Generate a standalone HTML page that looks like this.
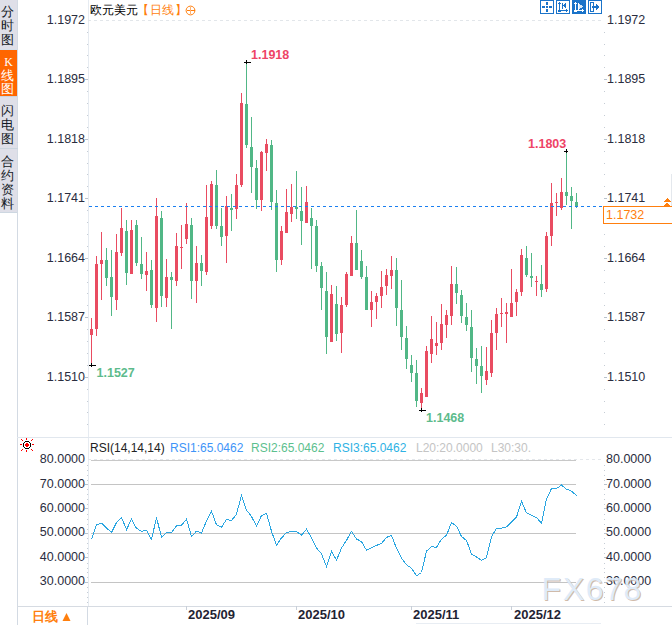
<!DOCTYPE html>
<html><head><meta charset="utf-8"><style>
html,body{margin:0;padding:0;width:672px;height:625px;overflow:hidden;background:#fff;font-family:"Liberation Sans",sans-serif;}
.t{position:absolute;white-space:nowrap;line-height:16px;}
.ax{font-size:12.5px;color:#2a2d3e;}
.rs{font-size:12px;}
.cj{font-size:12px;}
#side{position:absolute;left:0;top:0;width:17px;height:212px;background:#dfdfe8;border-bottom:1px solid #cdd7e1;}
#side div{position:absolute;left:-1px;width:17px;text-align:center;font-size:13px;line-height:14px;color:#141a26;font-weight:500;}
#vline{position:absolute;left:17px;top:0;width:1px;height:625px;background:#d3dae3;}
#daybtn{position:absolute;left:18px;top:607px;width:69px;height:18px;border-right:1px solid #d3dae3;color:#ff7f0e;font-weight:bold;font-size:13px;line-height:20px;}
#wm span{position:absolute;top:571px;font-size:32px;line-height:normal;color:#dce9f8;text-shadow:1px 1px 0 rgba(190,160,135,0.8);opacity:0.9}
</style></head><body>
<div id="vline"></div>
<div id="side">
<div style="top:5px">分<br>时<br>图</div>
<div style="top:50px;left:0;height:41px;padding-top:5px;line-height:13.2px;background:#ff6600;color:#fff"><span style="font-family:'Liberation Serif',serif;font-size:12px">K</span><br><span style="position:relative;left:-1px">线<br>图</span></div>
<div style="top:49px;left:0;width:17px;height:1px;background:#d6e0ea"></div><div style="top:96px;left:0;width:17px;height:1px;background:#ccd5de"></div><div style="top:104px">闪<br>电<br>图</div>
<div style="top:148px;left:0;width:18px;height:1px;background:#cad5de"></div>
<div style="top:155px">合<br>约<br>资<br>料</div>
</div>
<svg width="672" height="625" style="position:absolute;left:0;top:0" shape-rendering="crispEdges"><rect x="88" y="0" width="1" height="606" fill="#e6ebf1"/><line x1="88" y1="20.5" x2="604" y2="20.5" stroke="#e2e6ea" stroke-width="1" stroke-dasharray="3,3"/><rect x="85" y="79" width="3" height="1" fill="#b9c2cc"/><rect x="604" y="79" width="3" height="1" fill="#b9c2cc"/><rect x="85" y="139" width="3" height="1" fill="#b9c2cc"/><rect x="604" y="139" width="3" height="1" fill="#b9c2cc"/><rect x="85" y="198" width="3" height="1" fill="#b9c2cc"/><rect x="604" y="198" width="3" height="1" fill="#b9c2cc"/><rect x="85" y="258" width="3" height="1" fill="#b9c2cc"/><rect x="604" y="258" width="3" height="1" fill="#b9c2cc"/><rect x="85" y="317" width="3" height="1" fill="#b9c2cc"/><rect x="604" y="317" width="3" height="1" fill="#b9c2cc"/><rect x="85" y="377" width="3" height="1" fill="#b9c2cc"/><rect x="604" y="377" width="3" height="1" fill="#b9c2cc"/><rect x="87" y="32" width="1" height="1" fill="#c5ccd4"/><rect x="604" y="32" width="1" height="1" fill="#c5ccd4"/><rect x="87" y="44" width="1" height="1" fill="#c5ccd4"/><rect x="604" y="44" width="1" height="1" fill="#c5ccd4"/><rect x="87" y="55" width="1" height="1" fill="#c5ccd4"/><rect x="604" y="55" width="1" height="1" fill="#c5ccd4"/><rect x="87" y="67" width="1" height="1" fill="#c5ccd4"/><rect x="604" y="67" width="1" height="1" fill="#c5ccd4"/><rect x="87" y="91" width="1" height="1" fill="#c5ccd4"/><rect x="604" y="91" width="1" height="1" fill="#c5ccd4"/><rect x="87" y="103" width="1" height="1" fill="#c5ccd4"/><rect x="604" y="103" width="1" height="1" fill="#c5ccd4"/><rect x="87" y="115" width="1" height="1" fill="#c5ccd4"/><rect x="604" y="115" width="1" height="1" fill="#c5ccd4"/><rect x="87" y="127" width="1" height="1" fill="#c5ccd4"/><rect x="604" y="127" width="1" height="1" fill="#c5ccd4"/><rect x="87" y="151" width="1" height="1" fill="#c5ccd4"/><rect x="604" y="151" width="1" height="1" fill="#c5ccd4"/><rect x="87" y="163" width="1" height="1" fill="#c5ccd4"/><rect x="604" y="163" width="1" height="1" fill="#c5ccd4"/><rect x="87" y="174" width="1" height="1" fill="#c5ccd4"/><rect x="604" y="174" width="1" height="1" fill="#c5ccd4"/><rect x="87" y="186" width="1" height="1" fill="#c5ccd4"/><rect x="604" y="186" width="1" height="1" fill="#c5ccd4"/><rect x="87" y="210" width="1" height="1" fill="#c5ccd4"/><rect x="604" y="210" width="1" height="1" fill="#c5ccd4"/><rect x="87" y="222" width="1" height="1" fill="#c5ccd4"/><rect x="604" y="222" width="1" height="1" fill="#c5ccd4"/><rect x="87" y="234" width="1" height="1" fill="#c5ccd4"/><rect x="604" y="234" width="1" height="1" fill="#c5ccd4"/><rect x="87" y="246" width="1" height="1" fill="#c5ccd4"/><rect x="604" y="246" width="1" height="1" fill="#c5ccd4"/><rect x="87" y="270" width="1" height="1" fill="#c5ccd4"/><rect x="604" y="270" width="1" height="1" fill="#c5ccd4"/><rect x="87" y="282" width="1" height="1" fill="#c5ccd4"/><rect x="604" y="282" width="1" height="1" fill="#c5ccd4"/><rect x="87" y="293" width="1" height="1" fill="#c5ccd4"/><rect x="604" y="293" width="1" height="1" fill="#c5ccd4"/><rect x="87" y="305" width="1" height="1" fill="#c5ccd4"/><rect x="604" y="305" width="1" height="1" fill="#c5ccd4"/><rect x="87" y="329" width="1" height="1" fill="#c5ccd4"/><rect x="604" y="329" width="1" height="1" fill="#c5ccd4"/><rect x="87" y="341" width="1" height="1" fill="#c5ccd4"/><rect x="604" y="341" width="1" height="1" fill="#c5ccd4"/><rect x="87" y="353" width="1" height="1" fill="#c5ccd4"/><rect x="604" y="353" width="1" height="1" fill="#c5ccd4"/><rect x="87" y="365" width="1" height="1" fill="#c5ccd4"/><rect x="604" y="365" width="1" height="1" fill="#c5ccd4"/><rect x="87" y="389" width="1" height="1" fill="#c5ccd4"/><rect x="604" y="389" width="1" height="1" fill="#c5ccd4"/><rect x="87" y="401" width="1" height="1" fill="#c5ccd4"/><rect x="604" y="401" width="1" height="1" fill="#c5ccd4"/><rect x="87" y="412" width="1" height="1" fill="#c5ccd4"/><rect x="604" y="412" width="1" height="1" fill="#c5ccd4"/><rect x="87" y="424" width="1" height="1" fill="#c5ccd4"/><rect x="604" y="424" width="1" height="1" fill="#c5ccd4"/><rect x="91" y="318" width="1" height="47" fill="#e94c61"/><rect x="90" y="329" width="3" height="6" fill="#e94c61"/><rect x="96" y="256" width="1" height="80" fill="#e94c61"/><rect x="95" y="264" width="3" height="65" fill="#e94c61"/><rect x="101" y="232" width="1" height="68" fill="#e94c61"/><rect x="100" y="260" width="3" height="4" fill="#e94c61"/><rect x="106" y="248" width="1" height="38" fill="#51b786"/><rect x="105" y="260" width="3" height="18" fill="#51b786"/><rect x="111" y="250" width="1" height="66" fill="#51b786"/><rect x="110" y="277" width="3" height="20" fill="#51b786"/><rect x="116" y="234" width="1" height="76" fill="#e94c61"/><rect x="115" y="252" width="3" height="48" fill="#e94c61"/><rect x="121" y="208" width="1" height="48" fill="#e94c61"/><rect x="120" y="228" width="3" height="25" fill="#e94c61"/><rect x="126" y="220" width="1" height="65" fill="#51b786"/><rect x="125" y="231" width="3" height="42" fill="#51b786"/><rect x="131" y="220" width="1" height="54" fill="#e94c61"/><rect x="130" y="230" width="3" height="44" fill="#e94c61"/><rect x="136" y="220" width="1" height="46" fill="#51b786"/><rect x="135" y="225" width="3" height="38" fill="#51b786"/><rect x="141" y="237" width="1" height="42" fill="#51b786"/><rect x="140" y="264" width="3" height="10" fill="#51b786"/><rect x="146" y="252" width="1" height="39" fill="#e94c61"/><rect x="145" y="271" width="3" height="4" fill="#e94c61"/><rect x="151" y="260" width="1" height="48" fill="#51b786"/><rect x="150" y="270" width="3" height="35" fill="#51b786"/><rect x="156" y="198" width="1" height="124" fill="#e94c61"/><rect x="155" y="216" width="3" height="92" fill="#e94c61"/><rect x="161" y="211" width="1" height="96" fill="#51b786"/><rect x="160" y="218" width="3" height="78" fill="#51b786"/><rect x="166" y="259" width="1" height="48" fill="#e94c61"/><rect x="165" y="277" width="3" height="21" fill="#e94c61"/><rect x="171" y="272" width="1" height="57" fill="#51b786"/><rect x="170" y="277" width="3" height="3" fill="#51b786"/><rect x="176" y="233" width="1" height="53" fill="#e94c61"/><rect x="175" y="246" width="3" height="35" fill="#e94c61"/><rect x="181" y="225" width="1" height="44" fill="#e94c61"/><rect x="180" y="247" width="3" height="1" fill="#e94c61"/><rect x="186" y="203" width="1" height="41" fill="#e94c61"/><rect x="185" y="224" width="3" height="15" fill="#e94c61"/><rect x="191" y="218" width="1" height="81" fill="#51b786"/><rect x="190" y="225" width="3" height="56" fill="#51b786"/><rect x="196" y="246" width="1" height="57" fill="#e94c61"/><rect x="195" y="263" width="3" height="18" fill="#e94c61"/><rect x="201" y="255" width="1" height="31" fill="#51b786"/><rect x="200" y="263" width="3" height="8" fill="#51b786"/><rect x="206" y="185" width="1" height="90" fill="#e94c61"/><rect x="205" y="217" width="3" height="55" fill="#e94c61"/><rect x="211" y="181" width="1" height="48" fill="#e94c61"/><rect x="210" y="184" width="3" height="42" fill="#e94c61"/><rect x="216" y="170" width="1" height="59" fill="#51b786"/><rect x="215" y="185" width="3" height="41" fill="#51b786"/><rect x="221" y="208" width="1" height="38" fill="#51b786"/><rect x="220" y="226" width="3" height="11" fill="#51b786"/><rect x="226" y="196" width="1" height="67" fill="#e94c61"/><rect x="225" y="206" width="3" height="30" fill="#e94c61"/><rect x="231" y="194" width="1" height="37" fill="#51b786"/><rect x="230" y="208" width="3" height="2" fill="#51b786"/><rect x="236" y="174" width="1" height="45" fill="#e94c61"/><rect x="235" y="185" width="3" height="24" fill="#e94c61"/><rect x="241" y="93" width="1" height="94" fill="#e94c61"/><rect x="240" y="103" width="3" height="82" fill="#e94c61"/><rect x="246" y="62" width="1" height="86" fill="#51b786"/><rect x="245" y="104" width="3" height="41" fill="#51b786"/><rect x="251" y="117" width="1" height="76" fill="#51b786"/><rect x="250" y="147" width="3" height="20" fill="#51b786"/><rect x="256" y="160" width="1" height="49" fill="#51b786"/><rect x="255" y="168" width="3" height="32" fill="#51b786"/><rect x="261" y="151" width="1" height="60" fill="#e94c61"/><rect x="260" y="152" width="3" height="48" fill="#e94c61"/><rect x="266" y="139" width="1" height="32" fill="#e94c61"/><rect x="265" y="144" width="3" height="9" fill="#e94c61"/><rect x="271" y="140" width="1" height="70" fill="#51b786"/><rect x="270" y="145" width="3" height="57" fill="#51b786"/><rect x="276" y="190" width="1" height="82" fill="#51b786"/><rect x="275" y="203" width="3" height="57" fill="#51b786"/><rect x="281" y="226" width="1" height="39" fill="#e94c61"/><rect x="280" y="231" width="3" height="29" fill="#e94c61"/><rect x="286" y="189" width="1" height="44" fill="#e94c61"/><rect x="285" y="212" width="3" height="21" fill="#e94c61"/><rect x="291" y="184" width="1" height="38" fill="#e94c61"/><rect x="290" y="207" width="3" height="7" fill="#e94c61"/><rect x="296" y="171" width="1" height="48" fill="#51b786"/><rect x="295" y="207" width="3" height="2" fill="#51b786"/><rect x="301" y="187" width="1" height="58" fill="#51b786"/><rect x="300" y="211" width="3" height="10" fill="#51b786"/><rect x="306" y="186" width="1" height="37" fill="#e94c61"/><rect x="305" y="202" width="3" height="21" fill="#e94c61"/><rect x="311" y="208" width="1" height="61" fill="#51b786"/><rect x="310" y="218" width="3" height="8" fill="#51b786"/><rect x="316" y="220" width="1" height="52" fill="#51b786"/><rect x="315" y="226" width="3" height="40" fill="#51b786"/><rect x="321" y="262" width="1" height="48" fill="#51b786"/><rect x="320" y="266" width="3" height="22" fill="#51b786"/><rect x="326" y="272" width="1" height="82" fill="#51b786"/><rect x="325" y="291" width="3" height="46" fill="#51b786"/><rect x="331" y="285" width="1" height="57" fill="#e94c61"/><rect x="330" y="294" width="3" height="48" fill="#e94c61"/><rect x="336" y="286" width="1" height="55" fill="#51b786"/><rect x="335" y="304" width="3" height="30" fill="#51b786"/><rect x="341" y="297" width="1" height="56" fill="#e94c61"/><rect x="340" y="305" width="3" height="28" fill="#e94c61"/><rect x="346" y="272" width="1" height="35" fill="#e94c61"/><rect x="345" y="274" width="3" height="31" fill="#e94c61"/><rect x="351" y="236" width="1" height="40" fill="#e94c61"/><rect x="350" y="243" width="3" height="33" fill="#e94c61"/><rect x="356" y="210" width="1" height="60" fill="#51b786"/><rect x="355" y="243" width="3" height="27" fill="#51b786"/><rect x="361" y="250" width="1" height="29" fill="#51b786"/><rect x="360" y="261" width="3" height="16" fill="#51b786"/><rect x="366" y="266" width="1" height="44" fill="#51b786"/><rect x="365" y="277" width="3" height="33" fill="#51b786"/><rect x="371" y="291" width="1" height="36" fill="#e94c61"/><rect x="370" y="302" width="3" height="8" fill="#e94c61"/><rect x="376" y="293" width="1" height="26" fill="#e94c61"/><rect x="375" y="296" width="3" height="6" fill="#e94c61"/><rect x="381" y="271" width="1" height="37" fill="#e94c61"/><rect x="380" y="287" width="3" height="9" fill="#e94c61"/><rect x="386" y="269" width="1" height="26" fill="#e94c61"/><rect x="385" y="275" width="3" height="11" fill="#e94c61"/><rect x="391" y="256" width="1" height="33" fill="#e94c61"/><rect x="390" y="270" width="3" height="6" fill="#e94c61"/><rect x="396" y="258" width="1" height="68" fill="#51b786"/><rect x="395" y="270" width="3" height="38" fill="#51b786"/><rect x="401" y="280" width="1" height="70" fill="#51b786"/><rect x="400" y="310" width="3" height="27" fill="#51b786"/><rect x="406" y="326" width="1" height="43" fill="#51b786"/><rect x="405" y="338" width="3" height="21" fill="#51b786"/><rect x="411" y="355" width="1" height="27" fill="#51b786"/><rect x="410" y="365" width="3" height="8" fill="#51b786"/><rect x="416" y="360" width="1" height="47" fill="#51b786"/><rect x="415" y="373" width="3" height="28" fill="#51b786"/><rect x="421" y="388" width="1" height="22" fill="#e94c61"/><rect x="420" y="393" width="3" height="10" fill="#e94c61"/><rect x="426" y="346" width="1" height="51" fill="#e94c61"/><rect x="425" y="351" width="3" height="46" fill="#e94c61"/><rect x="431" y="316" width="1" height="47" fill="#e94c61"/><rect x="430" y="339" width="3" height="15" fill="#e94c61"/><rect x="436" y="322" width="1" height="33" fill="#e94c61"/><rect x="435" y="343" width="3" height="3" fill="#e94c61"/><rect x="441" y="304" width="1" height="46" fill="#e94c61"/><rect x="440" y="324" width="3" height="19" fill="#e94c61"/><rect x="446" y="310" width="1" height="28" fill="#e94c61"/><rect x="445" y="315" width="3" height="10" fill="#e94c61"/><rect x="451" y="266" width="1" height="59" fill="#e94c61"/><rect x="450" y="284" width="3" height="32" fill="#e94c61"/><rect x="456" y="267" width="1" height="37" fill="#51b786"/><rect x="455" y="284" width="3" height="9" fill="#51b786"/><rect x="461" y="290" width="1" height="33" fill="#51b786"/><rect x="460" y="295" width="3" height="21" fill="#51b786"/><rect x="466" y="303" width="1" height="28" fill="#51b786"/><rect x="465" y="317" width="3" height="8" fill="#51b786"/><rect x="471" y="310" width="1" height="62" fill="#51b786"/><rect x="470" y="327" width="3" height="31" fill="#51b786"/><rect x="476" y="348" width="1" height="36" fill="#51b786"/><rect x="475" y="359" width="3" height="7" fill="#51b786"/><rect x="481" y="346" width="1" height="47" fill="#51b786"/><rect x="480" y="366" width="3" height="10" fill="#51b786"/><rect x="486" y="347" width="1" height="38" fill="#e94c61"/><rect x="485" y="371" width="3" height="9" fill="#e94c61"/><rect x="491" y="320" width="1" height="57" fill="#e94c61"/><rect x="490" y="333" width="3" height="40" fill="#e94c61"/><rect x="496" y="308" width="1" height="42" fill="#e94c61"/><rect x="495" y="314" width="3" height="19" fill="#e94c61"/><rect x="501" y="298" width="1" height="29" fill="#e94c61"/><rect x="500" y="313" width="3" height="1" fill="#e94c61"/><rect x="506" y="303" width="1" height="40" fill="#e94c61"/><rect x="505" y="312" width="3" height="2" fill="#e94c61"/><rect x="511" y="269" width="1" height="48" fill="#e94c61"/><rect x="510" y="303" width="3" height="14" fill="#e94c61"/><rect x="516" y="289" width="1" height="27" fill="#e94c61"/><rect x="515" y="292" width="3" height="10" fill="#e94c61"/><rect x="521" y="249" width="1" height="47" fill="#e94c61"/><rect x="520" y="255" width="3" height="37" fill="#e94c61"/><rect x="526" y="246" width="1" height="31" fill="#51b786"/><rect x="525" y="258" width="3" height="17" fill="#51b786"/><rect x="531" y="253" width="1" height="34" fill="#51b786"/><rect x="530" y="276" width="3" height="2" fill="#51b786"/><rect x="536" y="276" width="1" height="20" fill="#e94c61"/><rect x="535" y="281" width="3" height="1" fill="#e94c61"/><rect x="541" y="265" width="1" height="32" fill="#51b786"/><rect x="540" y="284" width="3" height="6" fill="#51b786"/><rect x="546" y="232" width="1" height="60" fill="#e94c61"/><rect x="545" y="236" width="3" height="53" fill="#e94c61"/><rect x="551" y="183" width="1" height="63" fill="#e94c61"/><rect x="550" y="203" width="3" height="33" fill="#e94c61"/><rect x="556" y="193" width="1" height="23" fill="#e94c61"/><rect x="555" y="202" width="3" height="1" fill="#e94c61"/><rect x="561" y="178" width="1" height="32" fill="#e94c61"/><rect x="560" y="192" width="3" height="16" fill="#e94c61"/><rect x="566" y="151" width="1" height="54" fill="#51b786"/><rect x="565" y="192" width="3" height="4" fill="#51b786"/><rect x="571" y="187" width="1" height="42" fill="#51b786"/><rect x="570" y="196" width="3" height="5" fill="#51b786"/><rect x="576" y="193" width="1" height="15" fill="#51b786"/><rect x="575" y="202" width="3" height="4" fill="#51b786"/><line x1="89" y1="206.5" x2="604" y2="206.5" stroke="#1b7ff0" stroke-width="1.6" stroke-dasharray="3,3"/><rect x="244" y="62" width="7" height="1" fill="#000"/><rect x="246" y="60" width="1" height="4" fill="#000"/><rect x="564" y="151" width="4" height="1" fill="#000"/><rect x="566" y="149" width="1" height="4" fill="#000"/><rect x="89" y="365" width="7" height="1" fill="#000"/><rect x="91" y="363" width="1" height="4" fill="#000"/><rect x="419" y="410" width="7" height="1" fill="#000"/><rect x="421" y="408" width="1" height="4" fill="#000"/><rect x="17" y="437" width="655" height="1" fill="#e1e7ee"/><rect x="17" y="606" width="655" height="1" fill="#d6dbe2"/><line x1="88" y1="459.5" x2="604" y2="459.5" stroke="#e4e7eb" stroke-dasharray="3,3"/><rect x="91" y="460" width="485" height="1" fill="#c8c8c8"/><rect x="91" y="484" width="485" height="1" fill="#c4c4c4"/><rect x="91" y="533" width="485" height="1" fill="#c4c4c4"/><rect x="91" y="582" width="485" height="1" fill="#c4c4c4"/><rect x="85" y="484" width="3" height="1" fill="#b9c2cc"/><rect x="604" y="484" width="3" height="1" fill="#b9c2cc"/><rect x="85" y="508" width="3" height="1" fill="#b9c2cc"/><rect x="604" y="508" width="3" height="1" fill="#b9c2cc"/><rect x="85" y="533" width="3" height="1" fill="#b9c2cc"/><rect x="604" y="533" width="3" height="1" fill="#b9c2cc"/><rect x="85" y="557" width="3" height="1" fill="#b9c2cc"/><rect x="604" y="557" width="3" height="1" fill="#b9c2cc"/><rect x="85" y="582" width="3" height="1" fill="#b9c2cc"/><rect x="604" y="582" width="3" height="1" fill="#b9c2cc"/><rect x="87" y="465" width="1" height="1" fill="#c5ccd4"/><rect x="604" y="465" width="1" height="1" fill="#c5ccd4"/><rect x="87" y="470" width="1" height="1" fill="#c5ccd4"/><rect x="604" y="470" width="1" height="1" fill="#c5ccd4"/><rect x="87" y="475" width="1" height="1" fill="#c5ccd4"/><rect x="604" y="475" width="1" height="1" fill="#c5ccd4"/><rect x="87" y="480" width="1" height="1" fill="#c5ccd4"/><rect x="604" y="480" width="1" height="1" fill="#c5ccd4"/><rect x="87" y="489" width="1" height="1" fill="#c5ccd4"/><rect x="604" y="489" width="1" height="1" fill="#c5ccd4"/><rect x="87" y="494" width="1" height="1" fill="#c5ccd4"/><rect x="604" y="494" width="1" height="1" fill="#c5ccd4"/><rect x="87" y="499" width="1" height="1" fill="#c5ccd4"/><rect x="604" y="499" width="1" height="1" fill="#c5ccd4"/><rect x="87" y="504" width="1" height="1" fill="#c5ccd4"/><rect x="604" y="504" width="1" height="1" fill="#c5ccd4"/><rect x="87" y="514" width="1" height="1" fill="#c5ccd4"/><rect x="604" y="514" width="1" height="1" fill="#c5ccd4"/><rect x="87" y="519" width="1" height="1" fill="#c5ccd4"/><rect x="604" y="519" width="1" height="1" fill="#c5ccd4"/><rect x="87" y="524" width="1" height="1" fill="#c5ccd4"/><rect x="604" y="524" width="1" height="1" fill="#c5ccd4"/><rect x="87" y="529" width="1" height="1" fill="#c5ccd4"/><rect x="604" y="529" width="1" height="1" fill="#c5ccd4"/><rect x="87" y="538" width="1" height="1" fill="#c5ccd4"/><rect x="604" y="538" width="1" height="1" fill="#c5ccd4"/><rect x="87" y="543" width="1" height="1" fill="#c5ccd4"/><rect x="604" y="543" width="1" height="1" fill="#c5ccd4"/><rect x="87" y="548" width="1" height="1" fill="#c5ccd4"/><rect x="604" y="548" width="1" height="1" fill="#c5ccd4"/><rect x="87" y="553" width="1" height="1" fill="#c5ccd4"/><rect x="604" y="553" width="1" height="1" fill="#c5ccd4"/><rect x="87" y="563" width="1" height="1" fill="#c5ccd4"/><rect x="604" y="563" width="1" height="1" fill="#c5ccd4"/><rect x="87" y="568" width="1" height="1" fill="#c5ccd4"/><rect x="604" y="568" width="1" height="1" fill="#c5ccd4"/><rect x="87" y="572" width="1" height="1" fill="#c5ccd4"/><rect x="604" y="572" width="1" height="1" fill="#c5ccd4"/><rect x="87" y="577" width="1" height="1" fill="#c5ccd4"/><rect x="604" y="577" width="1" height="1" fill="#c5ccd4"/><rect x="87" y="587" width="1" height="1" fill="#c5ccd4"/><rect x="604" y="587" width="1" height="1" fill="#c5ccd4"/><rect x="87" y="592" width="1" height="1" fill="#c5ccd4"/><rect x="604" y="592" width="1" height="1" fill="#c5ccd4"/><rect x="87" y="597" width="1" height="1" fill="#c5ccd4"/><rect x="604" y="597" width="1" height="1" fill="#c5ccd4"/><rect x="87" y="602" width="1" height="1" fill="#c5ccd4"/><rect x="604" y="602" width="1" height="1" fill="#c5ccd4"/><polyline points="91.5,539.4 96.5,524.7 101.5,523.1 106.5,527.9 111.5,532.6 116.5,522.4 121.5,517.6 126.5,529.5 131.5,519.3 136.5,528.3 141.5,531.3 146.5,530.1 151.5,539.4 156.5,517.6 161.5,537.2 166.5,532.7 171.5,532.7 176.5,525.7 181.5,525.3 186.5,519.3 191.5,536.3 196.5,531.2 201.5,533.0 206.5,521.0 211.5,511.2 216.5,524.8 221.5,527.3 226.5,519.3 231.5,520.6 236.5,514.2 241.5,495.2 246.5,510.1 251.5,516.5 256.5,526.1 261.5,515.6 266.5,513.5 271.5,531.2 276.5,545.3 281.5,537.9 286.5,532.7 291.5,531.5 296.5,531.5 301.5,535.3 306.5,529.3 311.5,537.9 316.5,548.0 321.5,553.8 326.5,566.3 331.5,551.5 336.5,560.2 341.5,548.0 346.5,540.3 351.5,531.4 356.5,539.0 361.5,541.6 366.5,550.2 371.5,547.6 376.5,545.4 381.5,543.3 386.5,537.4 391.5,535.4 396.5,548.4 401.5,558.0 406.5,564.8 411.5,568.2 416.5,575.9 421.5,572.5 426.5,551.2 431.5,546.5 436.5,547.4 441.5,539.2 446.5,535.3 451.5,522.5 456.5,526.2 461.5,536.5 466.5,540.5 471.5,554.0 476.5,557.0 481.5,560.4 486.5,557.6 491.5,537.0 496.5,528.2 501.5,528.2 506.5,527.0 511.5,521.8 516.5,517.1 521.5,501.4 526.5,512.9 531.5,515.1 536.5,517.6 541.5,523.1 546.5,498.8 551.5,488.6 556.5,488.6 561.5,485.1 566.5,489.2 571.5,491.1 576.5,495.6" fill="none" stroke="#2ba6e1" stroke-width="1"/><rect x="416" y="623" width="185" height="1" fill="#e8edf3"/><rect x="186" y="606" width="1" height="4" fill="#c8cfd8"/><rect x="296" y="606" width="1" height="4" fill="#c8cfd8"/><rect x="411" y="606" width="1" height="4" fill="#c8cfd8"/><rect x="511" y="606" width="1" height="4" fill="#c8cfd8"/><rect x="25" y="441" width="1" height="1" fill="#000"/><rect x="26" y="441" width="1" height="1" fill="#000"/><rect x="27" y="441" width="1" height="1" fill="#000"/><rect x="28" y="441" width="1" height="1" fill="#000"/><rect x="24" y="442" width="1" height="1" fill="#000"/><rect x="29" y="442" width="1" height="1" fill="#000"/><rect x="23" y="443" width="1" height="1" fill="#000"/><rect x="26" y="443" width="1" height="1" fill="#f00"/><rect x="27" y="443" width="1" height="1" fill="#f00"/><rect x="30" y="443" width="1" height="1" fill="#000"/><rect x="23" y="444" width="1" height="1" fill="#000"/><rect x="25" y="444" width="1" height="1" fill="#f00"/><rect x="26" y="444" width="1" height="1" fill="#f00"/><rect x="27" y="444" width="1" height="1" fill="#f00"/><rect x="28" y="444" width="1" height="1" fill="#f00"/><rect x="30" y="444" width="1" height="1" fill="#000"/><rect x="23" y="445" width="1" height="1" fill="#000"/><rect x="25" y="445" width="1" height="1" fill="#f00"/><rect x="26" y="445" width="1" height="1" fill="#f00"/><rect x="27" y="445" width="1" height="1" fill="#f00"/><rect x="28" y="445" width="1" height="1" fill="#f00"/><rect x="30" y="445" width="1" height="1" fill="#000"/><rect x="23" y="446" width="1" height="1" fill="#000"/><rect x="26" y="446" width="1" height="1" fill="#f00"/><rect x="27" y="446" width="1" height="1" fill="#f00"/><rect x="30" y="446" width="1" height="1" fill="#000"/><rect x="24" y="447" width="1" height="1" fill="#000"/><rect x="29" y="447" width="1" height="1" fill="#000"/><rect x="25" y="448" width="1" height="1" fill="#000"/><rect x="26" y="448" width="1" height="1" fill="#000"/><rect x="27" y="448" width="1" height="1" fill="#000"/><rect x="28" y="448" width="1" height="1" fill="#000"/><rect x="26" y="438" width="1" height="1" fill="#f00"/><rect x="26" y="439" width="1" height="1" fill="#f00"/><rect x="26" y="450" width="1" height="1" fill="#f00"/><rect x="26" y="451" width="1" height="1" fill="#f00"/><rect x="20" y="444" width="1" height="1" fill="#f00"/><rect x="21" y="444" width="1" height="1" fill="#f00"/><rect x="32" y="444" width="1" height="1" fill="#f00"/><rect x="33" y="444" width="1" height="1" fill="#f00"/><rect x="21" y="439" width="1" height="1" fill="#f00"/><rect x="22" y="440" width="1" height="1" fill="#f00"/><rect x="32" y="439" width="1" height="1" fill="#f00"/><rect x="31" y="440" width="1" height="1" fill="#f00"/><rect x="22" y="449" width="1" height="1" fill="#f00"/><rect x="21" y="450" width="1" height="1" fill="#f00"/><rect x="31" y="449" width="1" height="1" fill="#f00"/><rect x="32" y="450" width="1" height="1" fill="#f00"/><rect x="603.5" y="206.5" width="70" height="17" fill="#fff" stroke="#ff7f0e" stroke-width="1"/><path d="M663,202 L667,198 L671,202 Z M663,206.3 L667,202 L671,206.3 Z" fill="#ff7f0e"/><rect x="671" y="174" width="1" height="32" fill="#e4e8ed"/><rect x="540.5" y="0.5" width="13" height="13" fill="#fff" stroke="#1a73c9"/><rect x="546" y="2" width="2" height="3" fill="#1a73c9"/><rect x="546" y="9" width="2" height="3" fill="#1a73c9"/><rect x="542" y="6" width="3" height="2" fill="#1a73c9"/><rect x="549" y="6" width="3" height="2" fill="#1a73c9"/><rect x="546" y="6" width="2" height="2" fill="#1a73c9"/><rect x="556.5" y="0.5" width="13" height="13" fill="#fff" stroke="#1a73c9"/><rect x="559" y="2" width="1" height="10" fill="#1a73c9"/><rect x="558" y="3" width="3" height="1" fill="#1a73c9"/><rect x="558" y="11" width="3" height="1" fill="#1a73c9"/><rect x="558" y="10" width="10" height="1" fill="#1a73c9"/><rect x="566" y="9" width="1" height="3" fill="#1a73c9"/><rect x="562" y="3" width="1" height="6" fill="#1a73c9"/><path d="M563,5.8 L566,3 L566,8.6 Z" fill="#1a73c9"/><rect x="572" y="0" width="14" height="14" fill="#1a73c9"/><rect x="575" y="2" width="1" height="10" fill="#fff"/><rect x="574" y="3" width="3" height="1" fill="#fff"/><rect x="574" y="11" width="3" height="1" fill="#fff"/><rect x="574" y="10" width="10" height="1" fill="#fff"/><rect x="582" y="9" width="1" height="3" fill="#fff"/><path d="M578,3 L583.5,6.5 L578,9.5 Z" fill="#d8e8f7"/><rect x="578" y="3" width="1" height="7" fill="#fff"/><rect x="588.5" y="0.5" width="13" height="13" fill="#fff" stroke="#1a73c9"/><rect x="590.5" y="2.5" width="3" height="9" fill="none" stroke="#1a73c9"/><rect x="592" y="6" width="5" height="2" fill="#1a73c9"/><path d="M596,3.5 L599.5,7 L596,10.5 Z" fill="#1a73c9"/><circle cx="190.5" cy="10.5" r="4.4" fill="none" stroke="#ff7f0e" stroke-width="1" shape-rendering="geometricPrecision"/><rect x="187" y="10" width="8" height="1" fill="#ff7f0e"/><rect x="190" y="7" width="1" height="7" fill="#ffb070"/></svg>
<div class="t ax" style="left:0px;top:11.75px;width:85px;text-align:right">1.1972</div><div class="t ax" style="left:607px;top:11.75px;">1.1972</div><div class="t ax" style="left:0px;top:71.25px;width:85px;text-align:right">1.1895</div><div class="t ax" style="left:607px;top:71.25px;">1.1895</div><div class="t ax" style="left:0px;top:130.75px;width:85px;text-align:right">1.1818</div><div class="t ax" style="left:607px;top:130.75px;">1.1818</div><div class="t ax" style="left:0px;top:190.25px;width:85px;text-align:right">1.1741</div><div class="t ax" style="left:607px;top:190.25px;">1.1741</div><div class="t ax" style="left:0px;top:249.75px;width:85px;text-align:right">1.1664</div><div class="t ax" style="left:607px;top:249.75px;">1.1664</div><div class="t ax" style="left:0px;top:309.25px;width:85px;text-align:right">1.1587</div><div class="t ax" style="left:607px;top:309.25px;">1.1587</div><div class="t ax" style="left:0px;top:368.75px;width:85px;text-align:right">1.1510</div><div class="t ax" style="left:607px;top:368.75px;">1.1510</div><div class="t ax" style="left:606px;top:206.5px;color:#ff7f0e">1.1732</div><div class="t ax" style="left:0px;top:451.2px;width:85px;text-align:right">80.0000</div><div class="t ax" style="left:606px;top:451.2px;">80.0000</div><div class="t ax" style="left:0px;top:475.59999999999997px;width:85px;text-align:right">70.0000</div><div class="t ax" style="left:606px;top:475.59999999999997px;">70.0000</div><div class="t ax" style="left:0px;top:500.0px;width:85px;text-align:right">60.0000</div><div class="t ax" style="left:606px;top:500.0px;">60.0000</div><div class="t ax" style="left:0px;top:524.4px;width:85px;text-align:right">50.0000</div><div class="t ax" style="left:606px;top:524.4px;">50.0000</div><div class="t ax" style="left:0px;top:548.8px;width:85px;text-align:right">40.0000</div><div class="t ax" style="left:606px;top:548.8px;">40.0000</div><div class="t ax" style="left:0px;top:573.1999999999999px;width:85px;text-align:right">30.0000</div><div class="t ax" style="left:606px;top:573.1999999999999px;">30.0000</div><div class="t ax" style="left:251px;top:47px;color:#ee4466;font-weight:bold">1.1918</div><div class="t ax" style="left:528px;top:136px;color:#ee4466;font-weight:bold">1.1803</div><div class="t ax" style="left:96.5px;top:365px;color:#5dbb8c;font-weight:bold">1.1527</div><div class="t ax" style="left:426px;top:410px;color:#5dbb8c;font-weight:bold">1.1468</div><div class="t cj" style="left:90px;top:1.5px;color:#000;font-size:12px;font-weight:500">欧元美元</div><div class="t cj" style="left:137px;top:1.5px;color:#ff7f0e;font-size:12px;font-weight:500;letter-spacing:0.5px">【日线】</div><div class="t rs" style="left:90px;top:440px;color:#222">RSI(14,14,14)</div><div class="t rs" style="left:170px;top:440px;color:#3e94f8">RSI1:65.0462</div><div class="t rs" style="left:251px;top:440px;color:#5cc08e">RSI2:65.0462</div><div class="t rs" style="left:333px;top:440px;color:#2fb2e4">RSI3:65.0462</div><div class="t rs" style="left:416px;top:440px;color:#c4c4c4">L20:20.0000</div><div class="t rs" style="left:491px;top:440px;color:#c4c4c4">L30:30.</div><div class="t ax" style="left:188px;top:607px;font-weight:bold;color:#1f2333;font-size:13px">2025/09</div><div class="t ax" style="left:298px;top:607px;font-weight:bold;color:#1f2333;font-size:13px">2025/10</div><div class="t ax" style="left:413px;top:607px;font-weight:bold;color:#1f2333;font-size:13px">2025/11</div><div class="t ax" style="left:514px;top:607px;font-weight:bold;color:#1f2333;font-size:13px">2025/12</div>
<div id="daybtn"><span style="position:absolute;left:14px">日线</span></div><svg width="10" height="10" style="position:absolute;left:62px;top:612px"><path d="M0.5,9 L4.5,1 L8.5,9 Z" fill="#ff7f0e"/></svg>
<div id="wm"><span style="left:541.5px">F</span><span style="left:563px">X</span><span style="left:585.8px">6</span><span style="left:604.8px">7</span><span style="left:623.5px">8</span></div>
</body></html>
